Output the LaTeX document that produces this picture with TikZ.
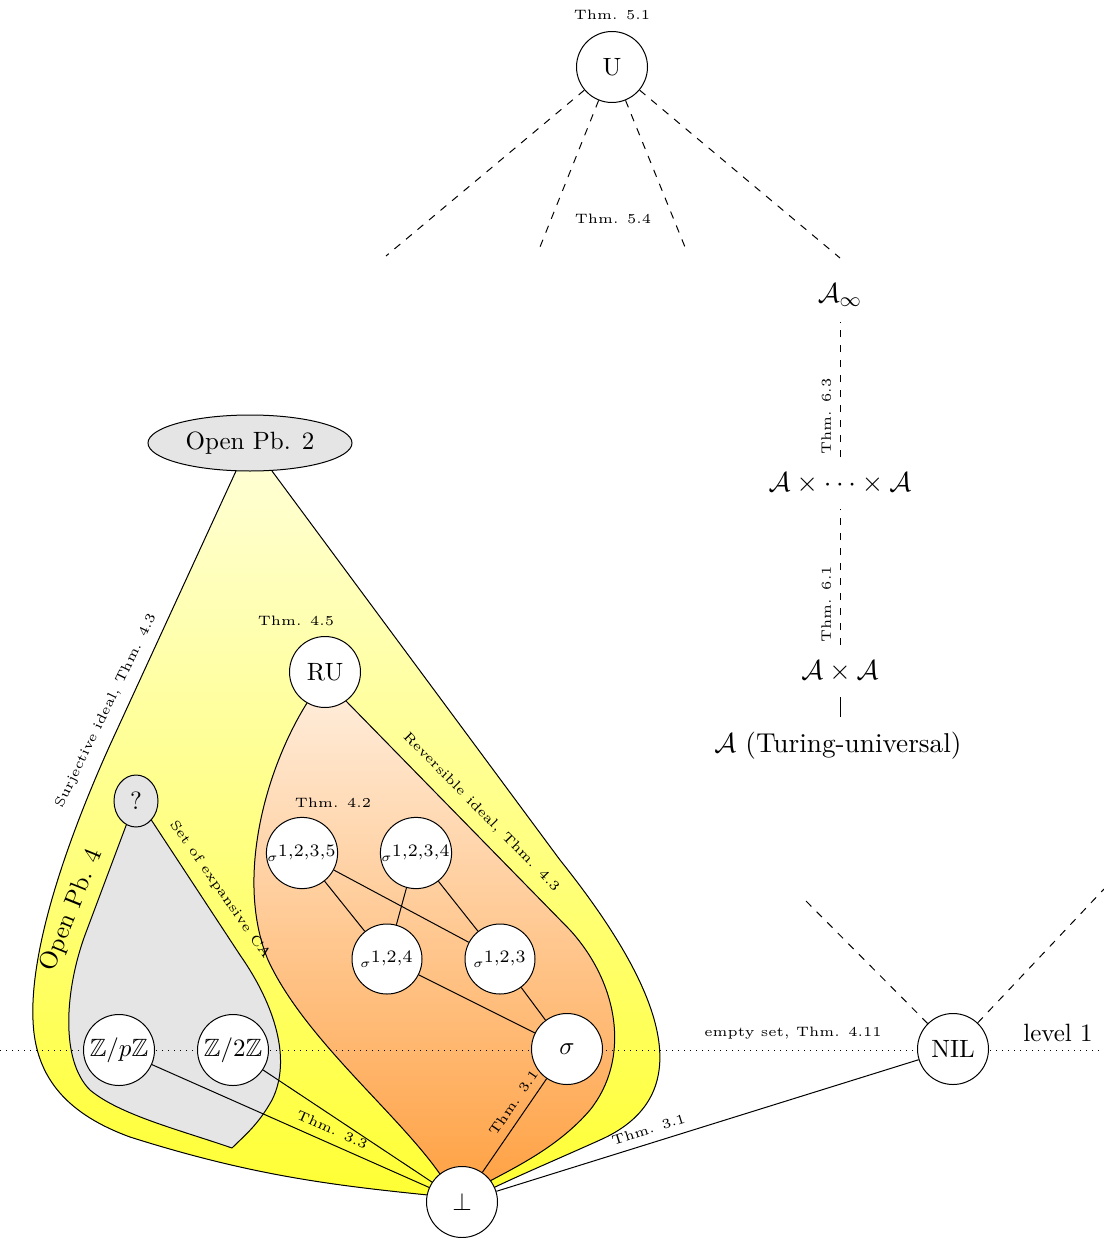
\documentclass[tikz,border=0pt]{standalone}
\usepackage{amsmath,amssymb}
\usetikzlibrary{shapes.geometric}
\pgfdeclarelayer{background}
\pgfsetlayers{background,main}
\begin{document}
\begin{tikzpicture}[x=0.4pt,y=-0.4pt,
  cnode/.style={circle,draw,fill=white,minimum size=28.4pt,inner sep=1pt},
  snode/.style={circle,draw,fill=white,minimum size=28pt,inner sep=0pt},
  anode/.style={inner sep=6pt,font=\fontsize{10.9}{13}\selectfont},
  thm/.style={font=\fontsize{5.45}{6.5}\selectfont},
  dline/.style={dashed},
]
\useasboundingbox (0,0) rectangle (1104,1238);

% ---------- regions (background) ----------
\begin{pgfonlayer}{background}
% yellow region
\fill[top color=yellow!15,bottom color=yellow!80]
  (250,443) -- (236,471) -- (110,745) .. controls (65,845) and (30,950) .. (33,1020)
  .. controls (35,1080) and (70,1115) .. (130,1137)
  .. controls (250,1175) and (330,1185) .. (428,1195) -- (462,1202) -- (493,1188)
  .. controls (520,1175) and (560,1158) .. (600,1140)
  .. controls (690,1100) and (680,1010) .. (560,860) -- (272,471) -- cycle;
\draw (236,471) -- (110,745) .. controls (65,845) and (30,950) .. (33,1020)
  .. controls (35,1080) and (70,1115) .. (130,1137)
  .. controls (250,1175) and (330,1185) .. (428,1195);
\draw (272,471) -- (560,860) .. controls (680,1010) and (690,1100) .. (600,1140)
  .. controls (560,1158) and (520,1175) .. (493,1188);
% orange region
\fill[top color=orange!12,bottom color=orange!75]
  (325,672) -- (307,703) .. controls (265,770) and (235,880) .. (268,960)
  .. controls (305,1040) and (400,1115) .. (442,1177) -- (462,1202) -- (488,1182)
  .. controls (520,1165) and (560,1145) .. (590,1110)
  .. controls (630,1060) and (620,985) .. (570,930) -- (346,701) -- cycle;
\draw (307,703) .. controls (265,770) and (235,880) .. (268,960)
  .. controls (305,1040) and (400,1115) .. (442,1177);
\draw (346,701) -- (570,930) .. controls (620,985) and (630,1060) .. (590,1110)
  .. controls (560,1145) and (520,1165) .. (488,1182);
% gray region
\filldraw[fill=gray!20,line join=round]
  (127,823) -- (85,935) .. controls (65,990) and (60,1060) .. (90,1090)
  .. controls (120,1115) and (180,1130) .. (232,1148)
  .. controls (245,1135) and (258,1125) .. (272,1100)
  .. controls (292,1060) and (275,1005) .. (240,955) -- (150,818);
% level line
\draw[dotted] (0,1050) -- (1104,1050);
\end{pgfonlayer}

% ---------- top part ----------
\node[cnode] (U) at (612,67) {U};
\node[thm] (tU) at (612,15) {Thm. 5.1};
\coordinate (u1) at (386,256);
\coordinate (u2) at (538,252);
\coordinate (u3) at (687,252);
\coordinate (u4) at (840,258);
\draw[dline] (U) -- (u1);
\draw[dline] (U) -- (u2);
\draw[dline] (U) -- (u3);
\draw[dline] (U) -- (u4);
\node[thm] (t54) at (613,219) {Thm. 5.4};

% ---------- right column ----------
\node[anode] (Ainf) at (840,295) {$\mathcal{A}_\infty$};
\node[anode] (Ann) at (840,483) {$\mathcal{A}\times\cdots\times\mathcal{A}$};
\node[anode] (A2) at (840,671) {$\mathcal{A}\times\mathcal{A}$};
\node[anode] (A1) at (838,746) {$\mathcal{A}$ (Turing-universal)};
\draw[dline] (Ann) -- (Ainf) node[thm,pos=0.3,sloped,above] {Thm. 6.3};
\draw[dline] (A2) -- (Ann) node[thm,pos=0.3,sloped,above] {Thm. 6.1};
\draw (A2.south) -- (A2.south |- A1.north);

% ---------- left part ----------
\node[ellipse,draw,fill=gray!20,minimum width=81.6pt,minimum height=22.4pt,inner sep=0pt] (op2) at (250,443) {Open Pb. 2};
\node[cnode] (RU) at (325,672) {RU};
\node[thm] (t45) at (296,621) {Thm. 4.5};
\node[thm] (t42) at (333,803) {Thm. 4.2};
\node[snode] (s1235) at (302,853) {$\scriptscriptstyle\sigma^{\scriptstyle 1,2,3,5}$};
\node[snode] (s1234) at (416,853) {$\scriptscriptstyle\sigma^{\scriptstyle 1,2,3,4}$};
\node[snode] (s124) at (387,959) {$\scriptscriptstyle\sigma^{\scriptstyle 1,2,4}$};
\node[snode] (s123) at (500,959) {$\scriptscriptstyle\sigma^{\scriptstyle 1,2,3}$};
\node[cnode] (sig) at (567,1049) {$\sigma$};
\node[cnode] (bot) at (462,1202) {$\bot$};
\node[cnode] (NIL) at (953,1049) {NIL};
\node[ellipse,draw,fill=gray!20,minimum width=17.6pt,minimum height=20.8pt,inner sep=0pt] (q) at (136,801) {?};
\node[cnode] (zp) at (119,1050) {$\mathbb{Z}/p\mathbb{Z}$};
\node[cnode] (z2) at (233,1050) {$\mathbb{Z}/2\mathbb{Z}$};

\draw (s1235) -- (s124);
\draw (s1235) -- (s123);
\draw (s1234) -- (s124);
\draw (s1234) -- (s123);
\draw (s124) -- (sig);
\draw (s123) -- (sig);
\draw (bot) -- (sig) node[thm,pos=0.66,sloped,above] {Thm. 3.1};
\draw (zp) -- (bot) node[thm,pos=0.63,sloped,above] {Thm. 3.3};
\draw (z2) -- (bot);
\draw (bot) -- (NIL) node[thm,pos=0.37,sloped,above] {Thm. 3.1};
\coordinate (n1) at (803,898);
\coordinate (n2) at (1104,889);
\draw[dline] (NIL) -- (n1);
\draw[dline] (NIL) -- (n2);

% ---------- labels ----------
\node[thm,rotate=64] (lsurj) at (106,711) {Surjective ideal, Thm. 4.3};
\node[thm,rotate=-45.5] (lrev) at (481,812) {Reversible ideal, Thm. 4.3};
\node[thm,rotate=-55] (lexp) at (220,890) {Set of expansive CA};
\node[rotate=68] (lop4) at (72,910) {Open Pb. 4};
\node[thm] (lempty) at (793,1033) {empty set, Thm. 4.11};
\node (lvl) at (1058,1033) {level 1};
\end{tikzpicture}
\end{document}
